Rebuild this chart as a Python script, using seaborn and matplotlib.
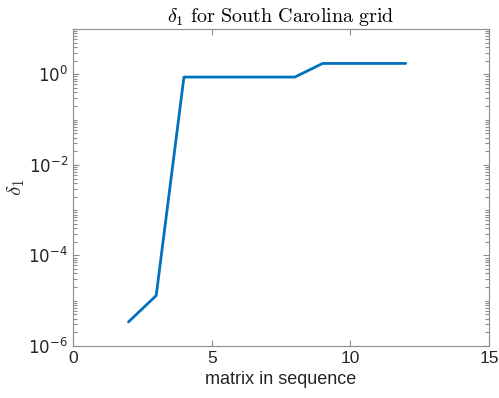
import matplotlib
matplotlib.use("Agg")
import matplotlib.pyplot as plt
import seaborn as sns
import pandas as pd
import numpy as np
from matplotlib.ticker import FixedLocator, NullFormatter

matrix_idx = [2, 3, 4, 5, 6, 7, 8, 9, 10, 11, 12]
delta1 = [3.4e-6, 1.3e-5, 0.87, 0.87, 0.87, 0.87, 0.87, 1.74, 1.74, 1.74, 1.74]
x_ticks = [0, 5, 10, 15]
y_ticks = [1e-6, 1e-4, 1e-2, 1e0]

sns.set_style("white")
plt.rcParams['font.family'] = ['Liberation Sans', 'DejaVu Sans']
plt.rcParams['mathtext.fontset'] = 'cm'

df = pd.DataFrame({"x": matrix_idx, "y": delta1})
fig = plt.figure(figsize=(4.99, 3.98), dpi=100)
ax = fig.add_axes([0.1463, 0.1307, 0.8337, 0.7963])
sns.lineplot(data=df, x="x", y="y", ax=ax, color="#0072BD", linewidth=2)
ax.set_yscale("log")
ax.set_xlim(0, 15)
ax.set_ylim(1e-6, 1e1)
ax.xaxis.set_major_locator(FixedLocator(x_ticks))
ax.yaxis.set_major_locator(FixedLocator(y_ticks))
ax.yaxis.set_minor_locator(FixedLocator(
    [m * 10.0 ** e for e in range(-6, 1) for m in range(2, 10)] + [1e-5, 1e-3, 1e-1, 1e1]))
ax.yaxis.set_minor_formatter(NullFormatter())
ax.set_yticklabels([r"$10^{%d}$" % int(np.log10(v)) for v in y_ticks])
ax.set_xticklabels([str(v) for v in x_ticks])

gray = "#262626"
for s in ax.spines.values():
    s.set_color("#8c8c8c")
    s.set_linewidth(0.8)
    s.set_visible(True)
ax.tick_params(which="both", direction="in", left=True, bottom=True, top=True, right=True,
               colors="#8c8c8c", labelcolor=gray, labelsize=12.5)
ax.tick_params(which="major", length=4, width=0.8)
ax.tick_params(axis="y", which="minor", length=3, width=0.8)
for lab in ax.get_yticklabels():
    lab.set_math_fontfamily('dejavusans')
    lab.set_family('DejaVu Sans')
    lab.set_fontsize(12)
ax.set_xlabel("matrix in sequence", fontsize=13, color=gray)
ax.set_ylabel(r"$\delta_1$", fontsize=15, color=gray, labelpad=1)
ax.set_title(r"$\delta_1\ \mathrm{for\ South\ Carolina\ grid}$", fontsize=14.5, color="black", pad=5)
fig.savefig("out.png", dpi=100)
